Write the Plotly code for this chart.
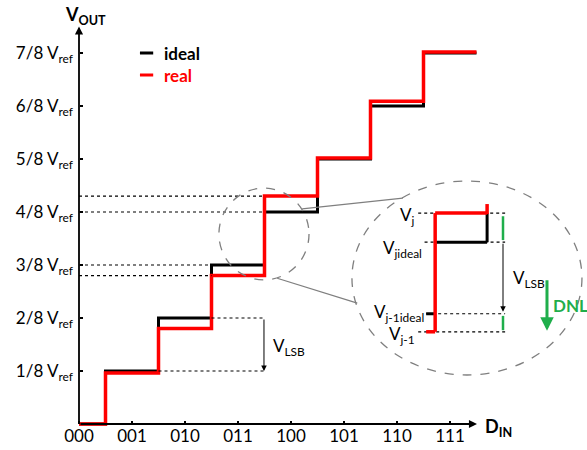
import plotly.graph_objects as go

# 3-bit DAC transfer characteristic: ideal vs real output levels
codes = ["000", "001", "010", "011", "100", "101", "110", "111"]
vout_labels = ["1/8 V<sub>ref</sub>", "2/8 V<sub>ref</sub>", "3/8 V<sub>ref</sub>",
               "4/8 V<sub>ref</sub>", "5/8 V<sub>ref</sub>", "6/8 V<sub>ref</sub>",
               "7/8 V<sub>ref</sub>"]
ideal_levels = [0, 1, 2, 3, 4, 5, 6, 7]          # in units of Vref/8
real_levels = [0, 0.96, 1.80, 2.80, 4.30, 5.02, 6.09, 7.02]

FONT = "Lato"
GREEN = "#1fae4b"
GREY = "#7f7f7f"

# step edges: transitions happen half-way between codes
edges = [0] + [i + 0.5 for i in range(len(codes))]
ideal_y = ideal_levels + [ideal_levels[-1]]
real_y = real_levels + [real_levels[-1]]

fig = go.Figure()
fig.add_trace(go.Scatter(x=edges, y=ideal_y, mode="lines", line_shape="hv",
                         line=dict(color="black", width=3), name="ideal",
                         showlegend=False))
fig.add_trace(go.Scatter(x=edges, y=real_y, mode="lines", line_shape="hv",
                         line=dict(color="#ff0000", width=3.5), name="real",
                         showlegend=False))

shapes = []
annotations = []


def hline(y, x0, x1, color="black", dash="dot", width=1.2):
    shapes.append(dict(type="line", x0=x0, x1=x1, y0=y, y1=y, xref="x", yref="y",
                       line=dict(color=color, dash=dash, width=width)))


def seg(x0, y0, x1, y1, color, width, dash="solid"):
    shapes.append(dict(type="line", x0=x0, x1=x1, y0=y0, y1=y1, xref="x", yref="y",
                       line=dict(color=color, width=width, dash=dash)))


def arrow(x0, y0, x1, y1, color="black", width=1, size=1.0, head=2):
    annotations.append(dict(x=x1, y=y1, ax=x0, ay=y0, xref="x", yref="y",
                            axref="x", ayref="y", text="", showarrow=True,
                            arrowhead=head, arrowsize=size, arrowwidth=width,
                            arrowcolor=color, standoff=0, startstandoff=0))


def label(x, y, text, xanchor="left", size=17, color="black", bold=False):
    if bold:
        text = "<b>" + text + "</b>"
    annotations.append(dict(x=x, y=y, xref="x", yref="y", text=text, showarrow=False,
                            xanchor=xanchor, yanchor="middle",
                            font=dict(family=FONT, size=size, color=color)))


# axes with arrow heads
arrow(0, 0, 0, 7.50, width=1.8, size=0.9)
arrow(0, 0, 7.51, 0, width=1.8, size=0.9)
label(-0.30, 7.70, "V<sub>OUT</sub>", bold=True, size=18)
label(7.62, -0.06, "D<sub>IN</sub>", bold=True, size=18)

# legend
seg(1.15, 7.0, 1.40, 7.0, "black", 3)
seg(1.15, 6.585, 1.40, 6.585, "#ff0000", 3)
label(1.57, 7.0, "ideal", bold=True)
label(1.57, 6.585, "real", color="#ff0000", bold=True)

# guide lines for the highlighted codes
hline(ideal_levels[3], 0, 2.5)
hline(real_levels[3], 0, 2.5)
hline(ideal_levels[4], 0, 3.5)
hline(real_levels[4], 0, 3.5)

# one LSB marker
hline(ideal_levels[2], 2.5, 3.5)
hline(ideal_levels[1], 1.5, 3.5)
arrow(3.49, ideal_levels[2], 3.49, ideal_levels[1], width=1, size=1.1)
label(3.62, 1.45, "V<sub>LSB</sub>")

# zoom circle and magnified view
shapes.append(dict(type="circle", xref="x", yref="y", x0=2.64, x1=4.34, y0=2.72, y1=4.45,
                   line=dict(color=GREY, dash="dash", width=1.3)))
shapes.append(dict(type="circle", xref="x", yref="y", x0=5.15, x1=9.49, y0=0.925, y1=4.585,
                   line=dict(color=GREY, dash="dash", width=1.3)))
seg(4.21, 4.06, 6.11, 4.26, GREY, 1.3)
seg(3.74, 2.75, 5.25, 2.28, GREY, 1.3)

# magnified step (inset coordinates)
xv, xr, xl = 6.72, 7.70, 6.55
vj, vjid, vj1id, vj1 = 3.98, 3.43, 2.08, 1.74
hline(vj, 6.40, 8.04)
hline(vjid, 6.52, 8.04)
hline(vj1id, 6.55, 8.04)
hline(vj1, 6.40, 8.04)
seg(xv, vjid, xr, vjid, "black", 3)
seg(xr, vjid, xr, vj, "black", 3)
seg(xl, vj1id, xv, vj1id, "black", 3)
seg(xl, vj1, xv, vj1, "#ff0000", 3.5)
seg(xv, vj1, xv, vj, "#ff0000", 3.5)
seg(xv, vj, xr, vj, "#ff0000", 3.5)
seg(xr, vj - 0.02, xr, 4.15, "#ff0000", 3.5)

seg(8.0, 3.92, 8.0, 3.47, GREEN, 2.5)
seg(8.0, 2.04, 8.0, 1.77, GREEN, 2.5)
arrow(8.0, vjid, 8.0, 2.12, width=1, size=1.1)
label(8.15, 2.74, "V<sub>LSB</sub>")
arrow(8.83, 2.74, 8.83, 1.76, color=GREEN, width=3, size=0.9)
label(8.90, 2.23, "DNL", color=GREEN, bold=True, size=17)

label(6.37, 3.93, "V<sub>j</sub>", xanchor="right")
label(6.50, 3.31, "V<sub>jideal</sub>", xanchor="right")
label(6.54, 2.09, "V<sub>j-1ideal</sub>", xanchor="right")
label(6.38, 1.68, "V<sub>j-1</sub>", xanchor="right")

fig.update_layout(
    width=587, height=450,
    margin=dict(l=0, r=0, t=0, b=0),
    paper_bgcolor="white", plot_bgcolor="white",
    shapes=shapes, annotations=annotations,
    showlegend=False,
    xaxis=dict(range=[-79 / 53, 508 / 53], anchor="free", position=26 / 450,
               tickvals=list(range(len(codes))), ticktext=codes,
               ticks="inside", ticklen=3, tickwidth=1.5, tickcolor="black",
               showgrid=False, zeroline=False, showline=False, automargin=False,
               tickfont=dict(family=FONT, size=17, color="black")),
    yaxis=dict(range=[-26 / 53, 8.0], anchor="free", position=79 / 587,
               tickvals=ideal_levels[1:], ticktext=vout_labels,
               ticks="inside", ticklen=3, tickwidth=1.5, tickcolor="black",
               showgrid=False, zeroline=False, showline=False, automargin=False,
               ticklabelstandoff=6,
               tickfont=dict(family=FONT, size=17, color="black")),
)

fig.write_html("out.html")
